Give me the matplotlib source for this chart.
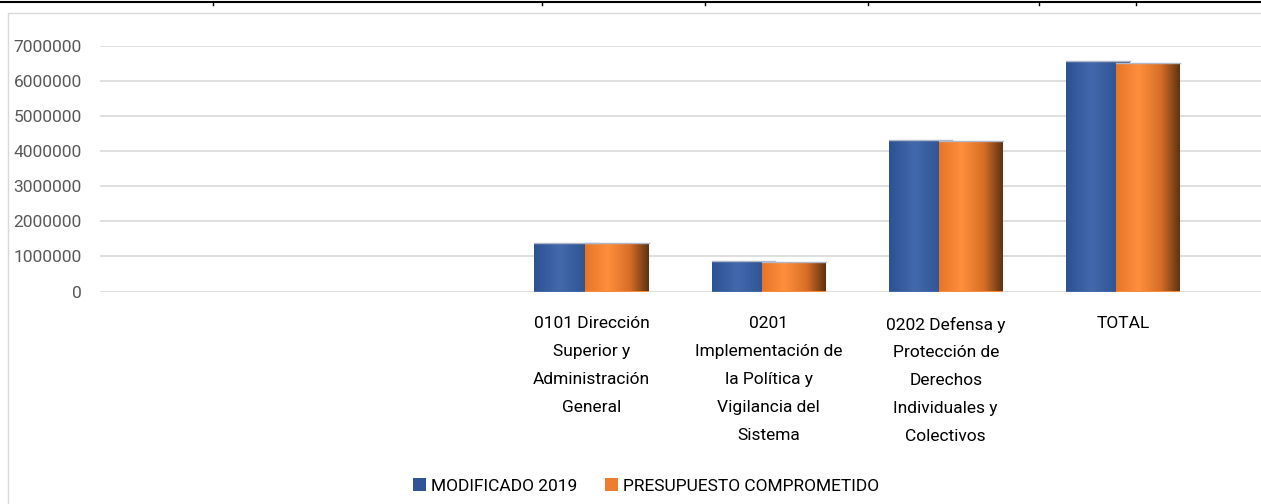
import matplotlib.pyplot as plt
import numpy as np
from matplotlib.colors import LinearSegmentedColormap
from matplotlib.lines import Line2D
from matplotlib.patches import Rectangle, Patch

plt.rcParams['font.family'] = ['Roboto', 'DejaVu Sans']

# datos
categorias = ['0101 Dirección\nSuperior y\nAdministración\nGeneral',
              '0201\nImplementación de\nla Política y\nVigilancia del\nSistema',
              '0202 Defensa y\nProtección de\nDerechos\nIndividuales y\nColectivos',
              'TOTAL']
modificado = [1390000, 860000, 4310000, 6550000]
comprometido = [1370000, 850000, 4270000, 6500000]
series = ['MODIFICADO 2019', 'PRESUPUESTO COMPROMETIDO']

azul = LinearSegmentedColormap.from_list('azul', [(0, '#2c5291'), (0.4, '#4369ad'), (1, '#274a85')])
naranja = LinearSegmentedColormap.from_list('naranja', [(0, '#e67528'), (0.35, '#ff8f3d'), (0.7, '#d86e26'), (1, '#5e3212')])

fig = plt.figure(figsize=(12.61, 5.04), dpi=100)
ax = fig.add_axes([100 / 1261, (504 - 291.5) / 504, 1161 / 1261, 246 / 504])

x = np.arange(len(categorias))
w = 0.36
off = 0.142
grad = np.linspace(0, 1, 256).reshape(1, -1)

for vals, dx, cmap in [(modificado, -off, azul), (comprometido, off, naranja)]:
    bars = ax.bar(x + dx, vals, w, color=cmap(0.4), edgecolor='none', zorder=2)
    for b in bars:
        x0 = b.get_x()
        h = b.get_height()
        im = ax.imshow(grad, extent=[x0, x0 + w, 0, h], aspect='auto', cmap=cmap, zorder=3)
        im.set_clip_path(b)
        ax.plot([x0, x0 + w], [h, h], color='#b0b8c8', lw=1, zorder=4)

ax.set_xlim(-2.775, 3.78)
ax.set_ylim(0, 7000000)
ax.set_yticks(np.arange(0, 7000001, 1000000))
ax.set_yticklabels([str(v) for v in range(0, 7000001, 1000000)], color='#595959', fontsize=12.5)
ax.set_xticks(x)
ax.set_xticklabels(categorias, fontsize=12.5, linespacing=2.08, va='top')
ax.tick_params(axis='y', length=0, pad=13)
ax.tick_params(axis='x', length=0, pad=18)
ax.grid(axis='y', color='#d9d9d9', lw=1.2, zorder=0)
for s in ax.spines.values():
    s.set_visible(False)

handles = [Patch(facecolor='#2f5597'), Patch(facecolor='#ed7d31')]
fig.legend(handles, series, loc='center', bbox_to_anchor=(646 / 1261, 1 - 486 / 504), ncol=2,
           frameon=False, fontsize=12.5, handlelength=0.75, handleheight=0.75, handletextpad=0.3,
           columnspacing=1.6)

# marco y linea superior
fig.add_artist(Rectangle((8 / 1261, -0.01), 1.1, 1 - 13 / 504 + 0.01, transform=fig.transFigure,
                         fill=False, edgecolor='#d9d9d9', lw=1))
fig.add_artist(Line2D([0, 1], [1 - 1.5 / 504, 1 - 1.5 / 504], color='black', lw=1.5))
for tx in [213, 542, 705, 868, 1039, 1136]:
    fig.add_artist(Line2D([tx / 1261, tx / 1261], [1 - 1.5 / 504, 1 - 5 / 504], color='black', lw=1))

fig.savefig('out.png', dpi=100)
